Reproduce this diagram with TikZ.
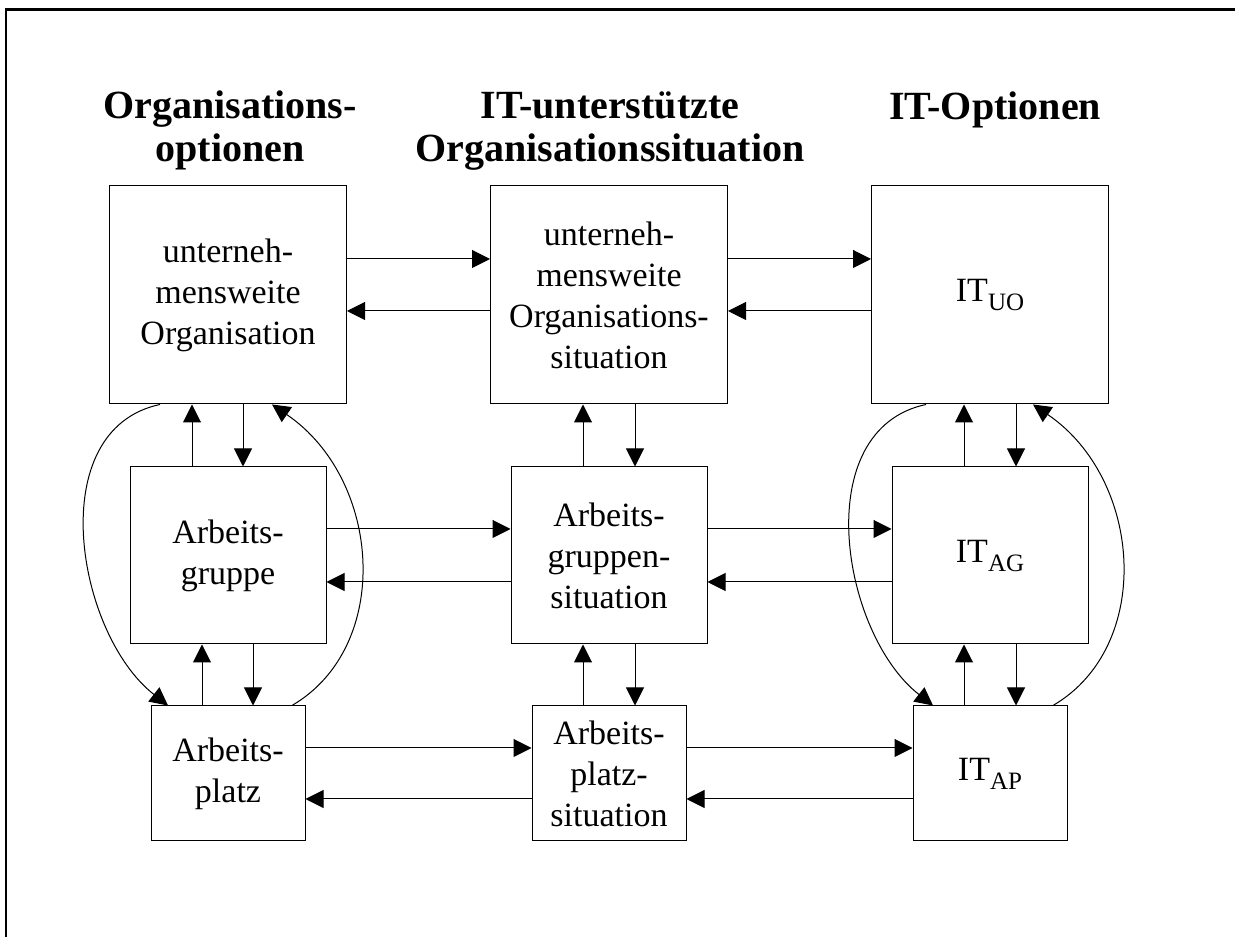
\documentclass[tikz,border=0pt]{standalone}
\usepackage{fontspec}
\setmainfont{Liberation Serif}
\usetikzlibrary{arrows.meta}
\newcommand{\ITsub}[1]{IT\raisebox{-9pt}{\fontsize{25}{25}\selectfont #1}}

\begin{document}
\begin{tikzpicture}[x=1pt,y=1pt,line width=1pt,>={Triangle[length=18pt,width=18pt]}]
\tikzstyle{big}=[rectangle,draw,minimum width=237pt,minimum height=218pt,inner sep=0pt,align=center,font=\fontsize{34}{41}\selectfont]
\tikzstyle{mid}=[rectangle,draw,minimum width=196pt,minimum height=177pt,inner sep=0pt,align=center,font=\fontsize{34}{41}\selectfont]
\tikzstyle{small}=[rectangle,draw,minimum width=154pt,minimum height=135pt,inner sep=0pt,align=center,font=\fontsize{34}{41}\selectfont]
\tikzstyle{head}=[align=center,anchor=base,font=\fontsize{40}{43}\selectfont\bfseries]

\useasboundingbox (0,0) rectangle (1235,937);
\draw[line width=2.5pt] (1235,927.5) -- (6,927.5) -- (6,0);

\node[head] (hOrg) at (230,775) {Organisations-\\optionen};
\node[head] (hSit) at (610,775) {IT-unterstützte\\Organisationssituation};
\node[head] (hIT)  at (995,817) {IT-Optionen};

\node[big] (orgUO) at (228,642) {unterneh-\\mensweite\\Organisation};
\node[big] (sitUO) at (609,642) {unterneh-\\mensweite\\Organisations-\\situation};
\node[big] (itUO)  at (990,642) {\ITsub{UO}};

\node[mid] (orgAG) at (228,381.5) {Arbeits-\\gruppe};
\node[mid] (sitAG) at (609,381.5) {Arbeits-\\gruppen-\\situation};
\node[mid] (itAG)  at (990,381.5) {\ITsub{AG}};

\node[small] (orgAP) at (228,163.5) {Arbeits-\\platz};
\node[small] (sitAP) at (609,163.5) {Arbeits-\\platz-\\situation};
\node[small] (itAP)  at (990,163.5) {\ITsub{AP}};

%horizontal arrows between the columns
\draw[->] ([yshift=36pt]orgUO.east) -- ([yshift=36pt]sitUO.west);
\draw[->] ([yshift=-16pt]sitUO.west) -- ([yshift=-16pt]orgUO.east);
\draw[->] ([yshift=36pt]sitUO.east) -- ([yshift=36pt]itUO.west);
\draw[->] ([yshift=-16pt]itUO.west) -- ([yshift=-16pt]sitUO.east);

\draw[->] ([yshift=26.5pt]orgAG.east) -- ([yshift=26.5pt]sitAG.west);
\draw[->] ([yshift=-26.5pt]sitAG.west) -- ([yshift=-26.5pt]orgAG.east);
\draw[->] ([yshift=26.5pt]sitAG.east) -- ([yshift=26.5pt]itAG.west);
\draw[->] ([yshift=-26.5pt]itAG.west) -- ([yshift=-26.5pt]sitAG.east);

\draw[->] ([yshift=25.5pt]orgAP.east) -- ([yshift=25.5pt]sitAP.west);
\draw[->] ([yshift=-25.5pt]sitAP.west) -- ([yshift=-25.5pt]orgAP.east);
\draw[->] ([yshift=25.5pt]sitAP.east) -- ([yshift=25.5pt]itAP.west);
\draw[->] ([yshift=-25.5pt]itAP.west) -- ([yshift=-25.5pt]sitAP.east);

%vertical arrows inside the columns
\draw[->] ([xshift=-36pt]orgAG.north) -- ([xshift=-36pt]orgUO.south);
\draw[->] ([xshift=15pt]orgUO.south) -- ([xshift=15pt]orgAG.north);
\draw[->] ([xshift=-26pt]orgAP.north) -- ([xshift=-26pt]orgAG.south);
\draw[->] ([xshift=25pt]orgAG.south) -- ([xshift=25pt]orgAP.north);

\draw[->] ([xshift=-26pt]sitAG.north) -- ([xshift=-26pt]sitUO.south);
\draw[->] ([xshift=26pt]sitUO.south) -- ([xshift=26pt]sitAG.north);
\draw[->] ([xshift=-26pt]sitAP.north) -- ([xshift=-26pt]sitAG.south);
\draw[->] ([xshift=26pt]sitAG.south) -- ([xshift=26pt]sitAP.north);

\draw[->] ([xshift=-26pt]itAG.north) -- ([xshift=-26pt]itUO.south);
\draw[->] ([xshift=26pt]itUO.south) -- ([xshift=26pt]itAG.north);
\draw[->] ([xshift=-26pt]itAP.north) -- ([xshift=-26pt]itAG.south);
\draw[->] ([xshift=26pt]itAG.south) -- ([xshift=26pt]itAP.north);

%outer curves
\draw[->] ([xshift=-68pt]orgUO.south) .. controls +(-118,-25) and +(-92,72) .. ([xshift=-60pt]orgAP.north);
\draw[->] ([xshift=64pt]orgAP.north) .. controls +(101,59) and +(110,-75) .. ([xshift=44pt]orgUO.south);
\draw[->] ([xshift=-64pt]itUO.south) .. controls +(-118,-25) and +(-92,72) .. ([xshift=-57pt]itAP.north);
\draw[->] ([xshift=63pt]itAP.north) .. controls +(101,59) and +(110,-75) .. ([xshift=43pt]itUO.south);

\end{tikzpicture}
\end{document}
